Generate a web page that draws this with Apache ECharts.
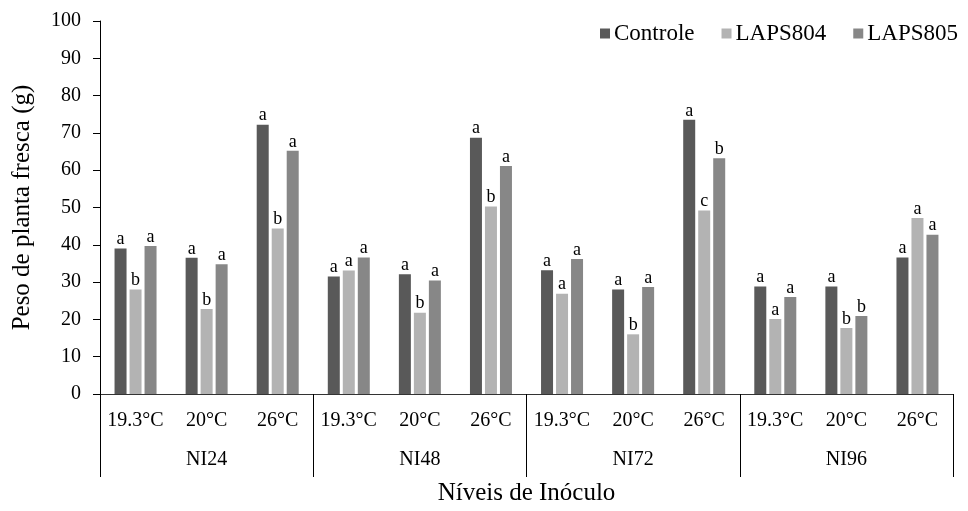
<!DOCTYPE html>
<html>
<head>
<meta charset="utf-8">
<script src="https://cdn.jsdelivr.net/npm/echarts@6/dist/echarts.min.js"></script>
<style>
  html, body { margin: 0; padding: 0; background: #fff; }
  #chart { width: 968px; height: 511px; }
</style>
</head>
<body>
<div id="chart"></div>
<script>
// Temperatures within each inoculum level, and the inoculum levels
const temps = ['19.3°C', '20°C', '26°C'];
const levels = ['NI24', 'NI48', 'NI72', 'NI96'];
const categories = levels.flatMap(() => temps);

// Fresh plant weight (g) per treatment
const controle = [39.0, 36.5, 72.2, 31.5, 32.1, 68.7, 33.2, 28.0, 73.5, 28.8, 28.8, 36.6];
const laps804  = [28.0, 22.8, 44.4, 33.1, 21.8, 50.3, 26.9, 16.0, 49.2, 20.1, 17.7, 47.2];
const laps805  = [39.7, 34.8, 65.2, 36.6, 30.4, 61.1, 36.2, 28.7, 63.2, 26.0, 20.9, 42.7];

// Significance letters above each bar
const lettersControle = ['a','a','a','a','a','a','a','a','a','a','a','a'];
const letters804      = ['b','b','b','a','b','b','a','b','c','a','b','a'];
const letters805      = ['a','a','a','a','a','a','a','a','b','a','b','a'];

const yTicks = { min: 0, max: 100, interval: 10 };

const FONT = 'Liberation Serif';
const chart = echarts.init(document.getElementById('chart'));

function barSeries(name, data, letters, color) {
  return {
    name: name,
    type: 'bar',
    xAxisIndex: 0,
    data: data,
    itemStyle: { color: color },
    barWidth: 12,
    barGap: '25%',
    label: {
      show: true,
      position: 'top',
      distance: 0,
      fontFamily: FONT,
      fontSize: 18,
      color: '#000',
      formatter: (p) => letters[p.dataIndex]
    }
  };
}

chart.setOption({
  animation: false,
  textStyle: { fontFamily: FONT },
  grid: { left: 100, right: 15, top: 21, bottom: 115 },
  legend: {
    top: 17,
    right: 5,
    itemWidth: 10,
    itemHeight: 10,
    itemGap: 27,
    icon: 'rect',
    textStyle: { fontFamily: FONT, fontSize: 23, color: '#000', padding: [0, 0, 0, -1] },
    data: ['Controle', 'LAPS804', 'LAPS805']
  },
  xAxis: [
    {
      type: 'category',
      data: categories,
      position: 'bottom',
      axisLine: { show: true, lineStyle: { color: '#333', width: 1 } },
      axisTick: { show: false },
      axisLabel: { interval: 0, margin: 17, fontFamily: FONT, fontSize: 20, color: '#000' }
    },
    {
      type: 'category',
      data: levels,
      position: 'bottom',
      axisLine: { show: false },
      axisTick: { show: true, interval: 0, length: 83, lineStyle: { color: '#000', width: 1 } },
      axisLabel: { interval: 0, margin: 56, fontFamily: FONT, fontSize: 20, color: '#000' },
      name: 'Níveis de Inóculo',
      nameLocation: 'middle',
      nameGap: 87,
      nameTextStyle: { fontFamily: FONT, fontSize: 25, color: '#000' }
    }
  ],
  yAxis: {
    type: 'value',
    min: yTicks.min,
    max: yTicks.max,
    interval: yTicks.interval,
    name: 'Peso de planta fresca (g)',
    nameLocation: 'middle',
    nameGap: 65,
    nameTextStyle: { fontFamily: FONT, fontSize: 25, color: '#000' },
    axisLine: { show: true, lineStyle: { color: '#000', width: 1 } },
    axisTick: { show: true, length: 7, lineStyle: { color: '#000' } },
    axisLabel: { margin: 19, fontFamily: FONT, fontSize: 20, color: '#000' },
    splitLine: { show: false }
  },
  series: [
    barSeries('Controle', controle, lettersControle, '#595959'),
    barSeries('LAPS804', laps804, letters804, '#b3b3b3'),
    barSeries('LAPS805', laps805, letters805, '#878787')
  ]
});
</script>
</body>
</html>
